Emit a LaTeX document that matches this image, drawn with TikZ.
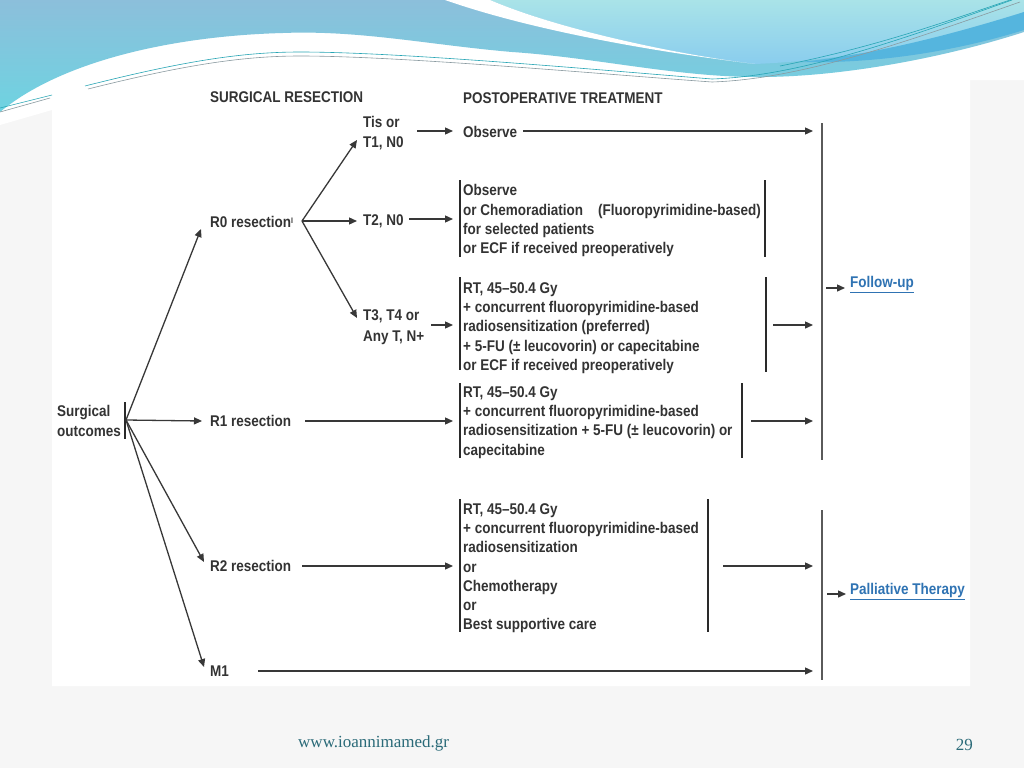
\documentclass[tikz,border=0pt]{standalone}
\usepackage{fontspec}
\newfontfamily\diagfont{Liberation Sans Bold}[FakeStretch=0.87]
\newfontfamily\footfont{Liberation Serif}
\usetikzlibrary{arrows.meta}
\definecolor{txt}{HTML}{333333}
\definecolor{arrc}{HTML}{383838}
\definecolor{barc}{HTML}{2a2a2a}
\definecolor{bigbar}{HTML}{5a5a5a}
\definecolor{linkc}{HTML}{2F73B3}
\definecolor{slidebg}{HTML}{F6F6F6}
\definecolor{waveA}{HTML}{8CBFDB}
\definecolor{waveB}{HTML}{6ED3E1}
\definecolor{waveC}{HTML}{A9E3E8}
\definecolor{waveD}{HTML}{8ACDEE}
\definecolor{waveE}{HTML}{55B5DE}
\definecolor{thinA}{HTML}{27A5B5}
\definecolor{thinB}{HTML}{8A9AA0}
\definecolor{footc}{HTML}{2A6A78}
\begin{document}
\begin{tikzpicture}[x=1pt,y=-1pt,
  lbl/.style={font=\diagfont\fontsize{15.5}{19.2}\selectfont, text=txt, inner sep=0pt, anchor=base west},
  blk/.style={font=\diagfont\fontsize{15.5}{19.2}\selectfont, text=txt, inner sep=0pt, anchor=north west, align=left},
  arr/.style={draw=arrc, line width=1.3pt, -{Triangle[length=8pt,width=7pt]}},
  bar/.style={draw=barc, line width=1.1pt},
  bigline/.style={draw=bigbar, line width=1.4pt},
  thin/.style={line width=0.6pt}
]
\useasboundingbox (0,0) rectangle (1024,768);
% slide background
\fill[slidebg] (0,0) rectangle (1024,768);
\fill[white] (0,0) -- (1024,0) -- (1024,80) -- (970,80) -- (970,686) -- (52,686) -- (52,110) -- (0,125) -- cycle;
% waves
\shade[top color=waveA, bottom color=waveB] (0,0) -- (1024,0) -- (1024,32)
  .. controls (950,56) and (850,76) .. (765,77)
  .. controls (680,78) and (600,58) .. (512,52)
  .. controls (430,45) and (360,30) .. (283,33)
  .. controls (170,36) and (60,62) .. (0,112) -- cycle;
\shade[top color=waveC, bottom color=waveD] (490,0) -- (1024,0) -- (1024,12)
  .. controls (950,40) and (850,60) .. (755,64)
  .. controls (680,55) and (560,30) .. (490,0) -- cycle;
\fill[waveE] (800,62) .. controls (880,54) and (960,32) .. (1024,12) -- (1024,30)
  .. controls (960,50) and (880,64) .. (800,62) -- cycle;
\fill[white] (445,0) -- (490,0) .. controls (560,30) and (680,55) .. (755,64)
  .. controls (640,50) and (525,28) .. (445,0) -- cycle;
\draw[thin, thinA] (85,86) .. controls (180,62) and (240,52) .. (300,52)
  .. controls (400,52) and (600,70) .. (712,79)
  .. controls (800,76) and (900,40) .. (1012,0);
\draw[thin, thinB] (88,89) .. controls (180,66) and (240,56) .. (300,56)
  .. controls (400,56) and (600,74) .. (712,82)
  .. controls (800,79) and (900,44) .. (1020,2);
\draw[thin, thinA] (780,66) .. controls (880,46) and (950,20) .. (1010,0);
\draw[thin, thinA] (0,108) -- (52,95);
\draw[thin, thinB] (0,112) -- (50,98);

% headers
\node[lbl] (hsr) at (210,102.5) {SURGICAL RESECTION};
\node[lbl] (hpt) at (463,103.5) {POSTOPERATIVE TREATMENT};

% left labels
\node[blk] (so) at (57,405.5) {Surgical\\outcomes};
\node[lbl] (r0) at (210,227.5) {R0 resection\raisebox{4pt}{\fontsize{8}{8}\selectfont I}};
\node[lbl] (r1) at (210,426.5) {R1 resection};
\node[lbl] (r2) at (210,571.5) {R2 resection};
\node[lbl] (m1) at (210,676.5) {M1};
\node[blk] (tis) at (363,116.5) {Tis or\\T1, N0};
\node[lbl] (t2) at (363,225.5) {T2, N0};
\node[blk] (t3) at (363,309.5) {T3, T4 or\\[1.8pt]Any T, N+};

% treatment texts
\node[lbl] (obs) at (463,137.5) {Observe};
\node[blk] (b2) at (463,184.5) {Observe\\\makebox[135pt][l]{or Chemoradiation}(Fluoropyrimidine-based)\\for selected patients\\or ECF if received preoperatively};
\node[blk] (b3) at (463,282.5) {RT, 45–50.4 Gy\\+ concurrent fluoropyrimidine-based\\radiosensitization (preferred)\\+ 5-FU (± leucovorin) or capecitabine\\or ECF if received preoperatively};
\node[blk] (b4) at (463,386.5) {RT, 45–50.4 Gy\\+ concurrent fluoropyrimidine-based\\radiosensitization + 5-FU (± leucovorin) or\\capecitabine};
\node[blk] (b5) at (463,503.5) {RT, 45–50.4 Gy\\+ concurrent fluoropyrimidine-based\\radiosensitization\\or\\Chemotherapy\\or\\Best supportive care};

% outcomes
\node[lbl, text=linkc] (fu) at (850,287.5) {\underline{Follow-up}};
\node[lbl, text=linkc] (pal) at (850,594.5) {\underline{Palliative Therapy}};

% bars
\draw[bar] (125,402) -- (125,439);
\draw[bar] (460,180) -- (460,257);
\draw[bar] (765,180) -- (765,257);
\draw[bar] (460,277) -- (460,370);
\draw[bar] (766,277) -- (766,372);
\draw[bar] (460,383) -- (460,458);
\draw[bar] (742,383) -- (742,458);
\draw[bar] (460,499) -- (460,632);
\draw[bar] (708,499) -- (708,632);
\draw[bigline] (822,123) -- (822,460);
\draw[bigline] (822,510) -- (822,680);

% connector coordinates
\coordinate (soO) at (126,420);
\coordinate (r0in) at (201,229);
\coordinate (r1in) at (202,421);
\coordinate (r2in) at (204,562);
\coordinate (m1in) at (204,667);
\coordinate (r0O) at (302,221);
\coordinate (tisin) at (357,140);
\coordinate (t2in) at (357,221);
\coordinate (t3in) at (357,318);
\coordinate (tisO) at (417,131);
\coordinate (obsin) at (453,131);
\coordinate (obsO) at (523,131);
\coordinate (fuA) at (813,131);
\coordinate (t2O) at (409,219);
\coordinate (b2in) at (453,219);
\coordinate (t3O) at (431,325);
\coordinate (b3in) at (453,325);
\coordinate (b3O) at (773,325);
\coordinate (fuB) at (813,325);
\coordinate (r1O) at (305,421);
\coordinate (b4in) at (453,421);
\coordinate (b4O) at (751,421);
\coordinate (fuC) at (813,421);
\coordinate (r2O) at (302,566);
\coordinate (b5in) at (453,566);
\coordinate (b5O) at (723,566);
\coordinate (palA) at (813,566);
\coordinate (m1O) at (258,671);
\coordinate (palB) at (813,671);
\coordinate (fuO) at (826,288);
\coordinate (fuin) at (845,288);
\coordinate (palO) at (827,594);
\coordinate (palin) at (846,594);

% connectors
\draw[arr] (soO) -- (r0in);
\draw[arr] (soO) -- (r1in);
\draw[arr] (soO) -- (r2in);
\draw[arr] (soO) -- (m1in);
\draw[arr] (r0O) -- (tisin);
\draw[arr] (r0O) -- (t2in);
\draw[arr] (r0O) -- (t3in);
\draw[arr] (tisO) -- (obsin);
\draw[arr] (obsO) -- (fuA);
\draw[arr] (t2O) -- (b2in);
\draw[arr] (t3O) -- (b3in);
\draw[arr] (b3O) -- (fuB);
\draw[arr] (r1O) -- (b4in);
\draw[arr] (b4O) -- (fuC);
\draw[arr] (r2O) -- (b5in);
\draw[arr] (b5O) -- (palA);
\draw[arr] (m1O) -- (palB);
\draw[arr] (fuO) -- (fuin);
\draw[arr] (palO) -- (palin);

% footer
\node[font=\footfont\fontsize{17}{17}\selectfont, text=footc, inner sep=0pt, anchor=base west] (web) at (298,747) {www.ioannimamed.gr};
\node[font=\footfont\fontsize{17}{17}\selectfont, text=footc, inner sep=0pt, anchor=base east] (pg) at (973,750) {29};
\end{tikzpicture}
\end{document}
